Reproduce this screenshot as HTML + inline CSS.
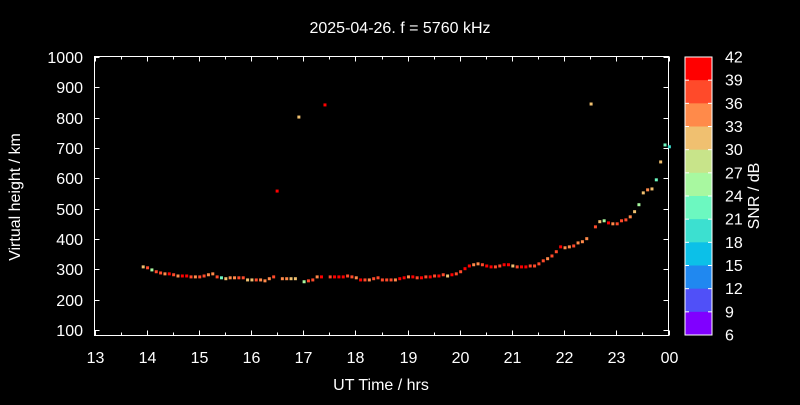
<!DOCTYPE html>
<html><head><meta charset="utf-8"><style>
html,body{margin:0;padding:0;background:#000;}
svg text{font-family:"Liberation Sans",sans-serif;fill:#fff;}
</style></head><body>
<svg id="chart" width="800" height="400" viewBox="0 0 800 400" xmlns="http://www.w3.org/2000/svg">
<rect width="800" height="400" fill="#000"/>
<text x="400" y="33" font-size="16" text-anchor="middle">2025-04-26. f = 5760 kHz</text>
<text x="381" y="390" font-size="16" text-anchor="middle">UT Time / hrs</text>
<text transform="translate(20,197) rotate(-90)" font-size="16" text-anchor="middle">Virtual height / km</text>
<text transform="translate(759,196) rotate(-90)" font-size="16" text-anchor="middle">SNR / dB</text>
<g id="axes"></g>
<g id="marks"></g>
<g id="cbar"></g>
</svg>
<script>
const times = ["13:56","14:01","14:06","14:11","14:16","14:21","14:26","14:31","14:36","14:41","14:46","14:51","14:56","15:01","15:06","15:11","15:16","15:21","15:26","15:31","15:36","15:41","15:46","15:51","15:56","16:01","16:06","16:11","16:16","16:21","16:26","16:36","16:41","16:46","16:51","17:01","17:06","17:11","17:16","17:21","17:31","17:36","17:41","17:46","17:51","17:56","18:01","18:06","18:11","18:16","18:21","18:26","18:31","18:36","18:41","18:46","18:51","18:56","19:01","19:06","19:11","19:16","19:21","19:26","19:31","19:36","19:41","19:46","19:51","19:56","20:01","20:06","20:11","20:16","20:21","20:26","20:31","20:36","20:41","20:46","20:51","20:56","21:01","21:06","21:11","21:16","21:21","21:26","21:31","21:36","21:41","21:46","21:51","21:56","22:01","22:06","22:11","22:16","22:21","22:26","22:36","22:41","22:46","22:51","22:56","23:01","23:06","23:11","23:16","23:21","23:26","23:31","23:36","23:41","23:46","23:51","23:56","24:01","16:30","16:55","17:25","22:31"];
const heights = [308,305,298,292,288,285,285,282,278,278,278,275,275,275,278,282,285,275,272,269,272,272,272,272,265,265,265,265,262,269,275,269,269,269,269,259,262,265,275,275,275,275,275,275,278,275,272,265,265,265,269,272,265,265,265,265,269,272,275,275,272,272,275,275,278,278,282,278,282,285,292,302,311,315,318,315,311,308,308,311,315,315,311,308,308,308,311,311,318,328,335,344,358,374,371,374,377,387,391,401,440,457,460,453,450,450,460,463,473,490,513,552,562,565,595,654,710,704,558,802,842,845];
const snr = [33,39,27,39,39,36,42,39,36,42,42,39,36,39,39,36,36,39,24,33,36,36,39,39,33,33,39,36,36,36,39,36,36,33,33,27,39,39,36,42,39,42,42,42,39,39,36,42,39,36,39,39,39,39,39,36,42,42,36,42,39,42,39,42,39,42,39,33,42,39,39,42,42,36,36,39,42,42,39,39,42,42,33,39,42,42,39,39,39,39,36,39,39,42,36,36,39,36,36,36,39,33,27,42,36,39,39,39,36,33,27,33,36,33,24,33,24,21,42,33,42,31];
const yTicks = [100,200,300,400,500,600,700,800,900,1000];
const xTicks = [13,14,15,16,17,18,19,20,21,22,23,24];
const xTickLabels = ["13","14","15","16","17","18","19","20","21","22","23","00"];
const cbTicks = [42,39,36,33,30,27,24,21,18,15,12,9,6];
const cbColors = ["#ff0000","#ff4a2a","#ff8a4a","#f0c070","#c8e48a","#a8f8a0","#6cf8c0","#3ce0d0","#0cc0e8","#2088f0","#5050f8","#8000ff"];

const NS="http://www.w3.org/2000/svg";
const X0=94.5,X1=668.5,Y0=335.5,Y1=56.5;
function xs(h){return X0+(h-13)/11*(X1-X0);}
function ys(v){return 57+(1000-v)*0.3033;}
function parseT(s){const p=s.split(":");return +p[0]+ (+p[1])/60;}
function mk(tag,at,parent){const e=document.createElementNS(NS,tag);for(const k in at)e.setAttribute(k,at[k]);parent.appendChild(e);return e;}
function snrColor(s){let i=Math.floor((42-s)/3);if(s>=42)i=0;i=Math.max(0,Math.min(11,i));return cbColors[i];}
const axes=document.getElementById('axes');
let fr=mk('rect',{x:X0,y:Y1,width:X1-X0,height:Y0-Y1,fill:'none',stroke:'#fff','stroke-width':1},axes);


yTicks.forEach(v=>{const y=Math.round(ys(v))+0.5;
 mk('line',{x1:X0,x2:X0+5,y1:y,y2:y,stroke:'#fff'},axes);
 mk('line',{x1:X1,x2:X1-5,y1:y,y2:y,stroke:'#fff'},axes);
 const t=mk('text',{x:83,y:y+5.5,'font-size':16,'text-anchor':'end'},axes);t.textContent=v;
 
 
});
xTicks.forEach((h,i)=>{const x=Math.round(xs(h))+0.5;
 mk('line',{x1:x,x2:x,y1:Y0,y2:Y0-5,stroke:'#fff'},axes);
 mk('line',{x1:x,x2:x,y1:Y1,y2:Y1+5,stroke:'#fff'},axes);
 if(h<24){const xm=Math.round(xs(h+0.5))+0.5;
  mk('line',{x1:xm,x2:xm,y1:Y0,y2:Y0-3,stroke:'#fff'},axes);
  mk('line',{x1:xm,x2:xm,y1:Y1,y2:Y1+3,stroke:'#fff'},axes);}
 const t=mk('text',{x:x,y:363,'font-size':16,'text-anchor':'middle'},axes);t.textContent=xTickLabels[i];
 
 
});
const marks=document.getElementById('marks');
times.forEach((s,i)=>{const x=xs(parseT(s)),y=ys(heights[i]);
 const r=mk('rect',{x:x-1.5,y:y-1.5,width:3,height:3,fill:snrColor(snr[i])},marks);
 
 
});
const cb=document.getElementById('cbar');
const CX=685,CW=27,CT=57,CB=335,bh=(CB-CT)/12;
cbColors.forEach((c,i)=>{const r=mk('rect',{x:CX,y:CT+i*bh,width:CW,height:bh+0.5,fill:c},cb);
 
 
});
mk('rect',{x:CX,y:CT,width:CW,height:CB-CT,fill:'none',stroke:'#fff'},cb);
cbTicks.forEach((v,i)=>{const y=CT+i*bh;
 mk('line',{x1:CX,x2:CX+4,y1:y,y2:y,stroke:'#fff'},cb);
 mk('line',{x1:CX+CW,x2:CX+CW-4,y1:y,y2:y,stroke:'#fff'},cb);
 const t=mk('text',{x:725,y:y+5.5,'font-size':16},cb);t.textContent=v;
 
 
});
</script>
</body></html>
